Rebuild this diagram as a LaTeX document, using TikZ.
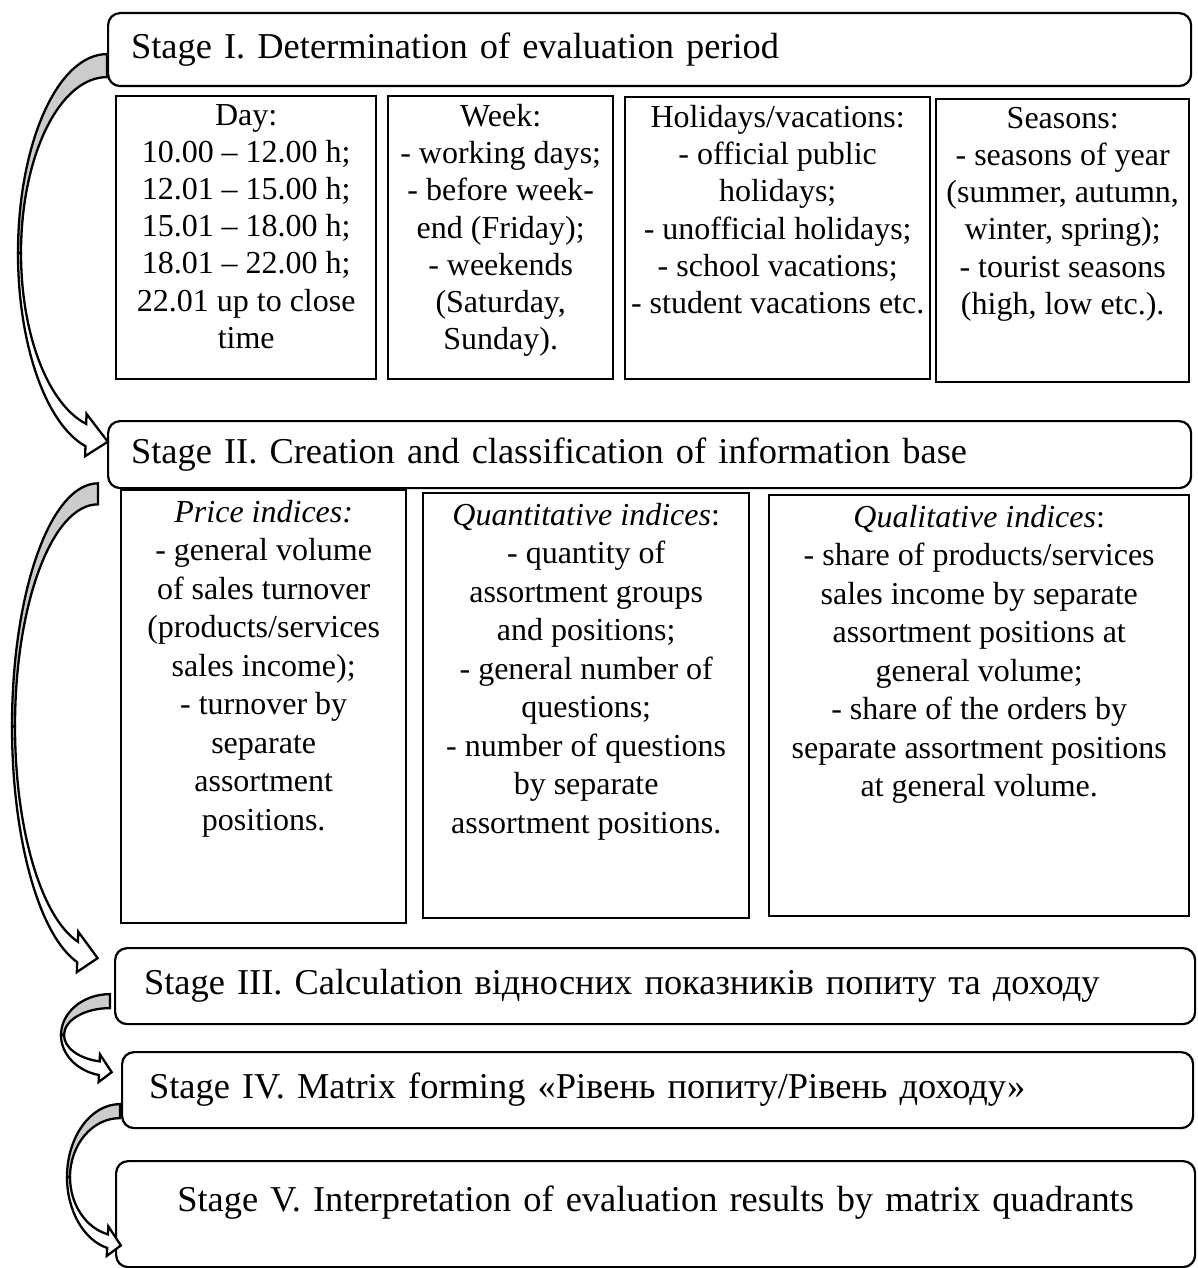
\documentclass[tikz,border=0pt]{standalone}
\usepackage{fontspec}
\setmainfont{Liberation Serif}
\usepackage{tikz}
\usetikzlibrary{calc, positioning}
\definecolor{myshade}{RGB}{204, 204, 204}

\newcommand{\headsize}{\fontsize{36.4}{42}\selectfont}
\newcommand{\cellsize}{\fontsize{32}{38.5}\selectfont}
\newcommand{\periodsize}{\fontsize{32}{37.2}\selectfont}

% bent block arrow: centre, x radius, y radius, band width, end angle, barb, head length
\newcommand{\bentarrow}[7]{%
  \pgfmathsetmacro{\irx}{#2-3}%
  \pgfmathsetmacro{\iry}{#3-#4}%
  \pgfmathsetmacro{\aox}{#2*cos(#5)}%
  \pgfmathsetmacro{\aoy}{#3*sin(#5)}%
  \pgfmathsetmacro{\aix}{\irx*cos(#5)}%
  \pgfmathsetmacro{\aiy}{\iry*sin(#5)}%
  \coordinate (ctr) at ($#1$);
  \coordinate (ao) at ($(ctr)+(\aox,\aoy)$);
  \coordinate (ai) at ($(ctr)+(\aix,\aiy)$);
  \coordinate (am) at ($(ao)!0.5!(ai)$);
  % shaded back of the band
  \draw[arrow_style, fill=myshade]
      ($(ctr)+(0,#3)$) arc[start angle=90, end angle=180, x radius=#2, y radius=#3]
      -- ++(3,0) arc[start angle=180, end angle=90, x radius=\irx, y radius=\iry]
      -- cycle;
  % front of the band with its head
  \draw[arrow_style, fill=white]
      ($(ctr)+(-#2,0)$) arc[start angle=180, end angle=#5, x radius=#2, y radius=#3]
      -- ($(ao)!-#6pt!(ai)$) -- ($(am)!#7pt!75:(ao)$) -- ($(ai)!-#6pt!(ao)$)
      -- (ai) arc[start angle=#5, end angle=180, x radius=\irx, y radius=\iry]
      -- cycle;
}

\begin{document}
\begin{tikzpicture}[
    x=1pt, y=1pt,
    stage_style/.style={draw, line width=2.2pt, rounded corners=12pt,
      anchor=north west, align=left, font=\headsize, inner ysep=0pt,
      text height=26pt, text depth=9pt},
    cell_style/.style={draw, line width=2.4pt, anchor=north west},
    text_style/.style={anchor=north, align=center, inner sep=0pt,
      font=\cellsize},
    arrow_style/.style={line width=2.3pt}
]
    \useasboundingbox (0,0) rectangle (1198,-1268);

    % --- Stages ---
    \node[stage_style, minimum width=1083pt, minimum height=73pt,
          text width=1037pt, inner xsep=23pt] (s1) at (107,-12)
        {Stage I. Determination of evaluation period};
    \node[stage_style, minimum width=1083pt, minimum height=67pt,
          text width=1037pt, inner xsep=23pt] (s2) at (107,-420)
        {Stage II. Creation and classification of information base};
    \node[stage_style, minimum width=1080pt, minimum height=76pt,
          text width=1022pt, inner xsep=29pt] (s3) at (114,-947)
        {Stage III. Calculation відносних показників попиту та доходу};
    \node[stage_style, minimum width=1071pt, minimum height=76pt,
          text width=1017pt, inner xsep=27pt] (s4) at (121,-1051)
        {Stage IV. Matrix forming «Рівень попиту/Рівень доходу»};
    \node[stage_style, minimum width=1079pt, minimum height=106pt,
          text width=1059pt, inner xsep=10pt, align=center,
          text depth=32pt] (s5) at (115,-1160)
        {Stage V. Interpretation of evaluation results by matrix quadrants};

    % --- Evaluation period boxes ---
    \foreach \name/\x/\y/\w/\h in {day/115/95/260/283, week/387/95/225/283,
        hol/624/96/305/282, sea/935/98/253/283}{
      \node[cell_style, minimum width=\w pt, minimum height=\h pt]
          (\name) at (\x,-\y) {};
    }
    \node[text_style, font=\periodsize, below=9pt of day.north] (daytext)
        {Day:\\10.00 – 12.00 h;\\12.01 – 15.00 h;\\15.01 – 18.00 h;\\
         18.01 – 22.00 h;\\22.01 up to close\\time};
    \node[text_style, font=\periodsize, below=9pt of week.north] (weektext)
        {Week:\\- working days;\\- before week-\\end (Friday);\\- weekends\\
         (Saturday,\\Sunday).};
    \node[text_style, font=\periodsize, below=9pt of hol.north] (holtext)
        {Holidays/vacations:\\- official public\\holidays;\\
         - unofficial holidays;\\- school vacations;\\- student vacations etc.};
    \node[text_style, font=\periodsize, below=9pt of sea.north] (seatext)
        {Seasons:\\- seasons of year\\(summer, autumn,\\winter, spring);\\
         - tourist seasons\\(high, low etc.).};

    % --- Information base boxes ---
    \foreach \name/\x/\y/\w/\h in {price/120/489/285/433,
        quant/422/492/326/425, qual/768/494/420/421}{
      \node[cell_style, minimum width=\w pt, minimum height=\h pt]
          (\name) at (\x,-\y) {};
    }
    \node[text_style, below=11pt of price.north] (pricetext)
        {\textit{Price indices:}\\- general volume\\of sales turnover\\
         (products/services\\sales income);\\- turnover by\\separate\\
         assortment\\positions.};
    \node[text_style, below=11pt of quant.north] (quanttext)
        {\textit{Quantitative indices}:\\- quantity of\\assortment groups\\
         and positions;\\- general number of\\questions;\\
         - number of questions\\by separate\\assortment positions.};
    \node[text_style, below=11pt of qual.north] (qualtext)
        {\textit{Qualitative indices}:\\- share of products/services\\
         sales income by separate\\assortment positions at\\
         general volume;\\- share of the orders by\\
         separate assortment positions\\at general volume.};

    % --- Bent arrows between stages ---
    \bentarrow{(s1.west)!0.5!(s2.west)+(0,-1)}{89}{199}{23}{256}{10}{23}
    \bentarrow{(s2.west)!0.5!(s3.west)+(-12.5,-6)}{86}{243}{21}{256}{10}{21}
    \bentarrow{(s3.west)!0.5!(s4.west)+(-7.5,3)}{49}{41}{14}{257}{7}{13}
    \bentarrow{(s4.west)!0.5!(s5.west)+(2,-25)}{53}{73}{14}{256}{8}{14}

\end{tikzpicture}
\end{document}
